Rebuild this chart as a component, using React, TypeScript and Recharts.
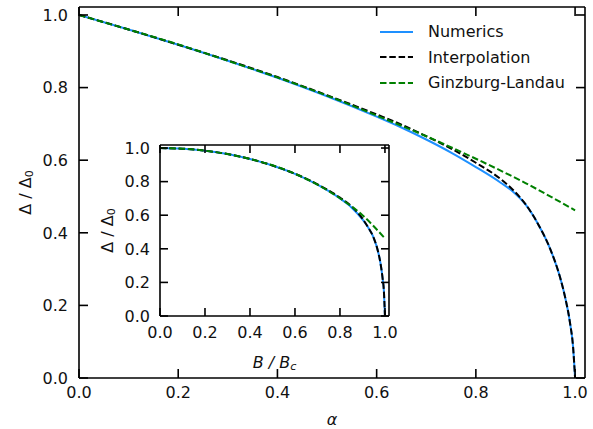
import { Label, Legend, Line, LineChart, ReferenceLine, XAxis, YAxis } from "recharts";

// main panel: gap vs pair-breaking parameter alpha
const alphaNum = [0, 0.1, 0.2, 0.3, 0.4, 0.5, 0.6, 0.65, 0.7, 0.75, 0.8, 0.85, 0.875, 0.9, 0.925, 0.95, 0.97, 0.98, 0.99, 0.996, 1.0];
const deltaNum = [1.0, 0.96, 0.918, 0.874, 0.827, 0.776, 0.72, 0.69, 0.657, 0.621, 0.581, 0.538, 0.513, 0.478, 0.425, 0.355, 0.276, 0.222, 0.15, 0.085, 0.0];
const deltaInterp = [1.0, 0.96, 0.918, 0.875, 0.829, 0.779, 0.726, 0.698, 0.666, 0.632, 0.593, 0.548, 0.518, 0.479, 0.425, 0.355, 0.276, 0.222, 0.15, 0.085, 0.0];
const alphaGL = [0, 0.1, 0.2, 0.3, 0.4, 0.5, 0.6, 0.7, 0.8, 0.9, 1.0];
const deltaGL = [1.0, 0.96, 0.919, 0.874, 0.828, 0.778, 0.723, 0.666, 0.604, 0.537, 0.462];

// inset: gap vs field
const fieldNum = [0, 0.1, 0.2, 0.3, 0.4, 0.5, 0.6, 0.7, 0.8, 0.85, 0.9, 0.925, 0.95, 0.97, 0.98, 0.99, 0.995, 1.0];
const insetNum = [1.0, 0.996, 0.984, 0.964, 0.935, 0.896, 0.846, 0.782, 0.7, 0.648, 0.575, 0.528, 0.465, 0.38, 0.315, 0.22, 0.155, 0.0];
const insetInterp = [1.0, 0.996, 0.984, 0.964, 0.935, 0.896, 0.847, 0.784, 0.705, 0.655, 0.58, 0.528, 0.465, 0.38, 0.315, 0.22, 0.155, 0.0];
const fieldGL = [0, 0.1, 0.2, 0.3, 0.4, 0.5, 0.6, 0.7, 0.8, 0.9, 1.0];
const insetGL = [1.0, 0.996, 0.984, 0.964, 0.935, 0.897, 0.847, 0.782, 0.701, 0.6, 0.462];

const ticks = [0, 0.2, 0.4, 0.6, 0.8, 1.0];
const legendItems = [
  { name: "Numerics", color: "#1e90ff", dash: undefined },
  { name: "Interpolation", color: "#000000", dash: "6.5 2.8" },
  { name: "Ginzburg-Landau", color: "#008000", dash: "6.5 2.8" },
];

const FONT = "'DejaVu Sans', sans-serif";
const FS = 16;
const DASH = "6.5 2.8";
const fmt = (v: number) => v.toFixed(1);

const zip = (xs: number[], ys: number[]) => xs.map((x, i) => ({ x, y: ys[i] }));

// inward ticks on both opposite spines, label outside
const makeXTick = (bottom: number, top: number, len: number) => (p: any) => (
  <g>
    <line x1={p.x} x2={p.x} y1={bottom} y2={bottom - len} stroke="#000" strokeWidth={1.6} />
    <line x1={p.x} x2={p.x} y1={top} y2={top + len} stroke="#000" strokeWidth={1.6} />
    <text x={p.x} y={p.y} dy="0.71em" textAnchor="middle" fontFamily={FONT} fontSize={FS} fill="#111">
      {fmt(p.payload.value)}
    </text>
  </g>
);

const makeYTick = (left: number, right: number, len: number) => (p: any) => (
  <g>
    <line x1={left} x2={left + len} y1={p.y} y2={p.y} stroke="#000" strokeWidth={1.6} />
    <line x1={right} x2={right - len} y1={p.y} y2={p.y} stroke="#000" strokeWidth={1.6} />
    <text x={p.x} y={p.y} dy="0.36em" textAnchor="end" fontFamily={FONT} fontSize={FS} fill="#111">
      {fmt(p.payload.value)}
    </text>
  </g>
);

const deltaLabel = (cx: number) => (props: any) => {
  const vb = props.viewBox || {};
  const cy = (vb.y ?? 0) + (vb.height ?? 0) / 2;
  return (
    <text
      x={cx}
      y={cy}
      transform={`rotate(-90, ${cx}, ${cy})`}
      textAnchor="middle"
      dominantBaseline="central"
      fontFamily={FONT}
      fontSize={FS}
      fill="#111"
    >
      Δ / Δ<tspan fontSize={FS * 0.7} dy={4}>0</tspan>
    </text>
  );
};

const xLabel = (cy: number, node: any) => (props: any) => {
  const vb = props.viewBox || {};
  const cx = (vb.x ?? 0) + (vb.width ?? 0) / 2;
  return (
    <text x={cx} y={cy} textAnchor="middle" dominantBaseline="central" fontFamily={FONT} fontSize={FS} fill="#111" fontStyle="italic">
      {node}
    </text>
  );
};

const LegendBox = () => (
  <div style={{ fontFamily: FONT, fontSize: FS, color: "#111" }}>
    {legendItems.map((it) => (
      <div key={it.name} style={{ display: "flex", alignItems: "center", height: 25.5 }}>
        <svg width={36} height={10}>
          <line x1={2} y1={5} x2={35} y2={5} stroke={it.color} strokeWidth={2} strokeDasharray={it.dash} />
        </svg>
        <span style={{ marginLeft: 14, whiteSpace: "nowrap" }}>{it.name}</span>
      </div>
    ))}
  </div>
);

export default function App() {
  const axisCommon = {
    type: "number" as const,
    ticks,
    allowDataOverflow: true,
    stroke: "#000",
    strokeWidth: 1.6,
    tickLine: false,
    tickSize: 0,
  };
  const spine = { stroke: "#000", strokeWidth: 1.6, xAxisId: "b", yAxisId: "l" };
  return (
    <div style={{ position: "absolute", left: 0, top: 0, width: 593, height: 429, background: "#fff" }}>
      <div style={{ position: "absolute", left: 0, top: 0 }}>
        <LineChart width={593} height={429} margin={{ top: 7, right: 8, bottom: 11, left: 39 }}>
          <XAxis {...axisCommon} xAxisId="b" dataKey="x" domain={[0, 1.02]} height={40} tickMargin={9} tick={makeXTick(378, 7, 9)}>
            <Label content={xLabel(419, "α")} />
          </XAxis>
          <YAxis {...axisCommon} yAxisId="l" dataKey="y" domain={[0, 1.022]} width={40} tickMargin={11} tick={makeYTick(79, 585, 9)}>
            <Label content={deltaLabel(25)} />
          </YAxis>
          <ReferenceLine {...spine} x={1.02} />
          <ReferenceLine {...spine} y={1.022} />
          <Legend layout="vertical" align="center" verticalAlign="middle" content={<LegendBox />} wrapperStyle={{ position: "absolute", left: 378, top: 19, width: 212 }} />
          <Line xAxisId="b" yAxisId="l" data={zip(alphaNum, deltaNum)} dataKey="y" type="monotone" stroke="#1e90ff" strokeWidth={2} dot={false} isAnimationActive={false} />
          <Line xAxisId="b" yAxisId="l" data={zip(alphaNum, deltaInterp)} dataKey="y" type="monotone" stroke="#000" strokeWidth={2} strokeDasharray={DASH} dot={false} isAnimationActive={false} />
          <Line xAxisId="b" yAxisId="l" data={zip(alphaGL, deltaGL)} dataKey="y" type="monotone" stroke="#008000" strokeWidth={2} strokeDasharray={DASH} dot={false} isAnimationActive={false} />
        </LineChart>
      </div>
      <div style={{ position: "absolute", left: 0, top: 0 }}>
        <LineChart width={593} height={429} margin={{ top: 145, right: 204, bottom: 83, left: 110 }}>
          <XAxis {...axisCommon} xAxisId="b" dataKey="x" domain={[0, 1.018]} height={30} tickMargin={11} tick={makeXTick(316, 145, 8)}>
            <Label content={xLabel(362, <>B / B<tspan fontSize={FS * 0.7} dy={4}>c</tspan></>)} />
          </XAxis>
          <YAxis {...axisCommon} yAxisId="l" dataKey="y" domain={[0, 1.018]} width={50} tickMargin={10} tick={makeYTick(160, 389, 8)}>
            <Label content={deltaLabel(107)} />
          </YAxis>
          <ReferenceLine {...spine} x={1.018} />
          <ReferenceLine {...spine} y={1.018} />
          <Line xAxisId="b" yAxisId="l" data={zip(fieldNum, insetNum)} dataKey="y" type="monotone" stroke="#1e90ff" strokeWidth={2} dot={false} isAnimationActive={false} />
          <Line xAxisId="b" yAxisId="l" data={zip(fieldNum, insetInterp)} dataKey="y" type="monotone" stroke="#000" strokeWidth={2} strokeDasharray={DASH} dot={false} isAnimationActive={false} />
          <Line xAxisId="b" yAxisId="l" data={zip(fieldGL, insetGL)} dataKey="y" type="monotone" stroke="#008000" strokeWidth={2} strokeDasharray={DASH} dot={false} isAnimationActive={false} />
        </LineChart>
      </div>
    </div>
  );
}
